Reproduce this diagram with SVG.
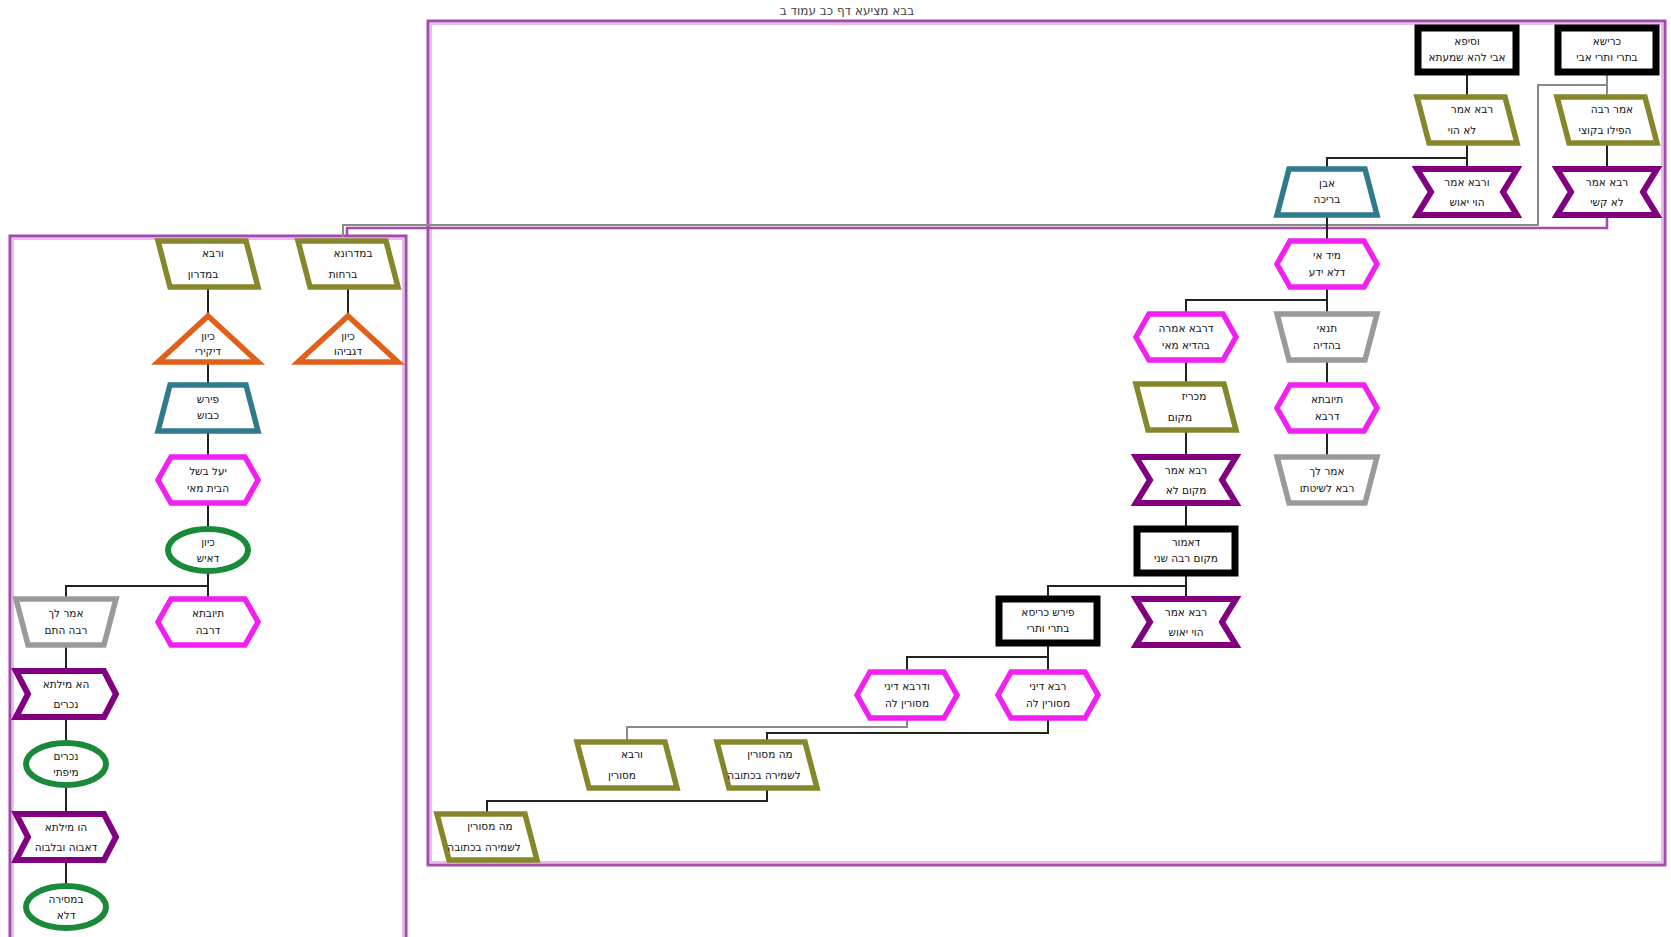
<svg xmlns="http://www.w3.org/2000/svg" width="1671" height="937" viewBox="0 0 1671 937">
<style>
.frame{fill:none;stroke:#a34aae;stroke-width:3}
.frame2{fill:none;stroke:#e3a6e6;stroke-width:1.5}
.c{fill:none;stroke:#222;stroke-width:2}
.cg{fill:none;stroke:#8a8a8a;stroke-width:2}
.cp{fill:none;stroke:#a34aae;stroke-width:2.5}
.blk{fill:#fff;stroke:#000;stroke-width:7}
.olv{fill:#fff;stroke:#86862a;stroke-width:5.5;stroke-linejoin:miter}
.pur{fill:#fff;stroke:#800080;stroke-width:6}
.mag{fill:#fff;stroke:#f020f0;stroke-width:5.5}
.teal{fill:#fff;stroke:#2f7a8c;stroke-width:5.5}
.gry{fill:#fff;stroke:#9a9a9a;stroke-width:5.5}
.org{fill:#fff;stroke:#e0601a;stroke-width:5.5}
.grn{fill:#fff;stroke:#1a8a3a;stroke-width:6}
text{font-family:"DejaVu Sans","Liberation Sans",sans-serif;font-size:10.5px;fill:#111;text-anchor:middle}
.title{font-size:12px;fill:#444}
</style>
<rect width="1671" height="937" fill="#fff"/>
<text class="title" x="847" y="15">בבא מציעא דף כב עמוד ב</text>
<g id="frames">
<rect class="frame" x="428" y="21" width="1237" height="844"/>
<rect class="frame2" x="431" y="24" width="1231" height="838"/>
<rect class="frame" x="10" y="236" width="396" height="710"/>
<rect class="frame2" x="13" y="239" width="390" height="704"/>
</g>
<g id="connectors">
<path class="cg" d="M1607,72V97M1607,85H1538V225H343V237"/>
<path class="c" d="M1607,143V169"/>
<path class="cp" d="M1607,215V228H347V237"/>
<path class="c" d="M1467,72V97M1467,143V169M1467,158H1327V169"/>
<path class="c" d="M1327,215V241M1327,287V314M1327,300H1186V314M1327,360V385M1327,431V457"/>
<path class="c" d="M1186,360V384M1186,430V457M1186,503V529M1186,573V599M1186,586H1048V599"/>
<path class="c" d="M1048,643V672M1048,657H907V672M1048,718V733H767V742"/>
<path class="cg" d="M907,718V727H627V742"/>
<path class="c" d="M767,788V801H487V814"/>
<path class="c" d="M348,287V316M208,287V316M208,362V385M208,431V457M208,503V529M208,571V599M208,586H66V599"/>
<path class="c" d="M66,645V671M66,717V743M66,785V814M66,860V886"/>
</g>
<g id="n1"><rect class="blk" x="1558" y="28" width="98" height="44"/><text x="1607" y="45">כרישא</text><text x="1607" y="61">בתרי ותרי אבי</text></g>
<g id="n2"><rect class="blk" x="1418" y="28" width="98" height="44"/><text x="1467" y="45">וסיפא</text><text x="1467" y="61">אבי להא שמעתא</text></g>
<g id="n3"><polygon class="olv" points="1557,97 1645,97 1657,143 1569,143"/><text x="1612" y="113">אמר רבה</text><text x="1605" y="134">הפילו בקוצי</text></g>
<g id="n4"><polygon class="olv" points="1417,97 1505,97 1517,143 1429,143"/><text x="1472" y="113">רבא אמר</text><text x="1462" y="134">לא הוי</text></g>
<g id="n5"><polygon class="pur" points="1557,169 1657,169 1643,192 1657,215 1557,215 1571,192"/><text x="1607" y="186">רבא אמר</text><text x="1607" y="206">לא קשי</text></g>
<g id="n6"><polygon class="pur" points="1417,169 1517,169 1503,192 1517,215 1417,215 1431,192"/><text x="1467" y="186">ורבא אמר</text><text x="1467" y="206">הוי יאוש</text></g>
<g id="n7"><polygon class="teal" points="1289,169 1365,169 1377,215 1277,215"/><text x="1327" y="187">אבן</text><text x="1327" y="203">בריכה</text></g>
<g id="n8"><polygon class="mag" points="1277,264 1290,241 1364,241 1377,264 1364,287 1290,287"/><text x="1327" y="259">מיד אי</text><text x="1327" y="276">דלא ידע</text></g>
<g id="n9"><polygon class="gry" points="1277,314 1377,314 1365,360 1289,360"/><text x="1327" y="332">תנאי</text><text x="1327" y="349">בהדיה</text></g>
<g id="n10"><polygon class="mag" points="1277,408 1290,385 1364,385 1377,408 1364,431 1290,431"/><text x="1327" y="403">תיובתא</text><text x="1327" y="420">דרבא</text></g>
<g id="n11"><polygon class="gry" points="1277,457 1377,457 1365,503 1289,503"/><text x="1327" y="475">אמר לך</text><text x="1327" y="492">רבא לשיטתו</text></g>
<g id="n12"><polygon class="mag" points="1136,337 1149,314 1223,314 1236,337 1223,360 1149,360"/><text x="1186" y="332">דרבא אמרה</text><text x="1186" y="349">בהדיא מאי</text></g>
<g id="n13"><polygon class="olv" points="1136,384 1224,384 1236,430 1148,430"/><text x="1194" y="400">מכריז</text><text x="1180" y="421">מקום</text></g>
<g id="n14"><polygon class="pur" points="1136,457 1236,457 1222,480 1236,503 1136,503 1150,480"/><text x="1186" y="474">רבא אמר</text><text x="1186" y="494">מקום לא</text></g>
<g id="n15"><rect class="blk" x="1137" y="529" width="98" height="44"/><text x="1186" y="546">דאמור</text><text x="1186" y="562">מקום רבה שני</text></g>
<g id="n16"><polygon class="pur" points="1136,599 1236,599 1222,622 1236,645 1136,645 1150,622"/><text x="1186" y="616">רבא אמר</text><text x="1186" y="636">הוי יאוש</text></g>
<g id="n17"><rect class="blk" x="999" y="599" width="98" height="44"/><text x="1048" y="616">פירש כריסא</text><text x="1048" y="632">בתרי ותרי</text></g>
<g id="n18"><polygon class="mag" points="998,695 1011,672 1085,672 1098,695 1085,718 1011,718"/><text x="1048" y="690">רבא דיני</text><text x="1048" y="707">מסורין לה</text></g>
<g id="n19"><polygon class="mag" points="857,695 870,672 944,672 957,695 944,718 870,718"/><text x="907" y="690">ודרבא דיני</text><text x="907" y="707">מסורין לה</text></g>
<g id="n20"><polygon class="olv" points="717,742 805,742 817,788 729,788"/><text x="770" y="758">מה מסורין</text><text x="764" y="779">לשמירה בכתובה</text></g>
<g id="n21"><polygon class="olv" points="577,742 665,742 677,788 589,788"/><text x="632" y="758">ורבא</text><text x="622" y="779">מסורין</text></g>
<g id="n22"><polygon class="olv" points="437,814 525,814 537,860 449,860"/><text x="490" y="830">מה מסורין</text><text x="484" y="851">לשמירה בכתובה</text></g>
<g id="n23"><polygon class="olv" points="298,241 386,241 398,287 310,287"/><text x="353" y="257">במדרונא</text><text x="343" y="278">ברחות</text></g>
<g id="n24"><polygon class="olv" points="158,241 246,241 258,287 170,287"/><text x="213" y="257">ורבא</text><text x="203" y="278">במדרון</text></g>
<g id="n25"><polygon class="org" points="348,316 398,362 298,362"/><text x="348" y="340">כיון</text><text x="348" y="355">דגביהו</text></g>
<g id="n26"><polygon class="org" points="208,316 258,362 158,362"/><text x="208" y="340">כיון</text><text x="208" y="355">דיקירי</text></g>
<g id="n27"><polygon class="teal" points="170,385 246,385 258,431 158,431"/><text x="208" y="403">פירש</text><text x="208" y="419">כבוש</text></g>
<g id="n28"><polygon class="mag" points="158,480 171,457 245,457 258,480 245,503 171,503"/><text x="208" y="475">יעל בשל</text><text x="208" y="492">הבית מאי</text></g>
<g id="n29"><ellipse class="grn" cx="208" cy="550" rx="40" ry="21"/><text x="208" y="546">כיון</text><text x="208" y="562">דאיש</text></g>
<g id="n30"><polygon class="gry" points="16,599 116,599 104,645 28,645"/><text x="66" y="617">אמר לך</text><text x="66" y="634">רבה התם</text></g>
<g id="n31"><polygon class="mag" points="158,622 171,599 245,599 258,622 245,645 171,645"/><text x="208" y="617">תיובתא</text><text x="208" y="634">דרבה</text></g>
<g id="n32"><polygon class="pur" points="16,671 104,671 116,694 104,717 16,717 28,694"/><text x="66" y="688">הא מילתא</text><text x="66" y="708">נכרים</text></g>
<g id="n33"><ellipse class="grn" cx="66" cy="764" rx="40" ry="21"/><text x="66" y="760">נכרים</text><text x="66" y="776">מיפתי</text></g>
<g id="n34"><polygon class="pur" points="16,814 104,814 116,837 104,860 16,860 28,837"/><text x="66" y="831">הו מילתא</text><text x="66" y="851">דאבוה ובלבוה</text></g>
<g id="n35"><ellipse class="grn" cx="66" cy="907" rx="40" ry="21"/><text x="66" y="903">במסירה</text><text x="66" y="919">דלא</text></g>
</svg>
